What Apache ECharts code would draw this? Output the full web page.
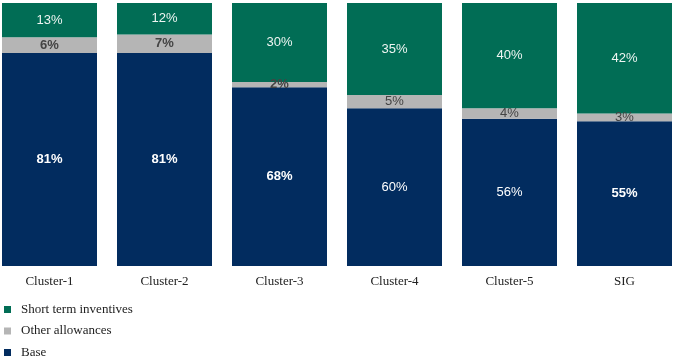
<!DOCTYPE html>
<html>
<head>
<meta charset="utf-8">
<script src="https://cdn.jsdelivr.net/npm/echarts@6/dist/echarts.min.js"></script>
<style>
html, body { margin: 0; padding: 0; background: #fff; overflow: hidden; }
body { width: 674px; height: 358px; position: relative; }
/* the bars sit a little wider than the picture, so the canvas spills over both edges */
#chart { position: absolute; left: -8px; top: 0; width: 690px; height: 372px; }
</style>
</head>
<body>
<div id="chart"></div>
<script>
const categories = ['Cluster-1', 'Cluster-2', 'Cluster-3', 'Cluster-4', 'Cluster-5', 'SIG'];
const baseValues = [81, 81, 68, 60, 56, 55];
const otherValues = [6, 7, 2, 5, 4, 3];
const shortTermValues = [13, 12, 30, 35, 40, 42];

// which labels look bold in the source
const baseBold = [0, 1, 2, 5];
const otherBold = [0, 1, 2];

const labelFont = '"Liberation Sans", Arial, sans-serif';
const serifFont = '"Liberation Serif", "Times New Roman", serif';

const makeData = (values, boldIdx) => values.map((v, i) => ({
    value: v,
    label: { fontWeight: boldIdx.includes(i) ? 'bold' : 'normal' }
}));

const barSeries = (name, color, values, labelColor, boldIdx) => ({
    name,
    type: 'bar',
    stack: 'total',
    barWidth: 95,
    itemStyle: { color },
    label: {
        show: true,
        position: 'inside',
        formatter: '{c}%',
        color: labelColor,
        fontFamily: labelFont,
        fontSize: 13,
    },
    data: makeData(values, boldIdx),
});

const chart = echarts.init(document.getElementById('chart'));
chart.setOption({
    animation: false,
    grid: { left: 0, right: 0, top: 3, bottom: 106, containLabel: false },
    legend: {
        orient: 'vertical',
        left: 7,
        top: 298,
        icon: 'rect',
        itemWidth: 7,
        itemHeight: 7,
        itemGap: 8.5,
        textStyle: { fontFamily: serifFont, fontSize: 13, color: '#222', padding: [0, 0, 0, 5] },
        data: ['Short term inventives', 'Other allowances', 'Base'],
    },
    xAxis: {
        type: 'category',
        data: categories,
        axisLine: { show: false },
        axisTick: { show: false },
        axisLabel: { fontFamily: serifFont, fontSize: 13, color: '#222', margin: 9 },
    },
    yAxis: {
        type: 'value',
        min: 0,
        max: 100,
        show: false,
        splitLine: { show: false },
    },
    series: [
        barSeries('Base', '#022c5f', baseValues, '#ffffff', baseBold),
        barSeries('Other allowances', '#b5b5b5', otherValues, '#444444', otherBold),
        barSeries('Short term inventives', '#016d55', shortTermValues, '#eef5f2', []),
    ],
});
</script>
</body>
</html>
